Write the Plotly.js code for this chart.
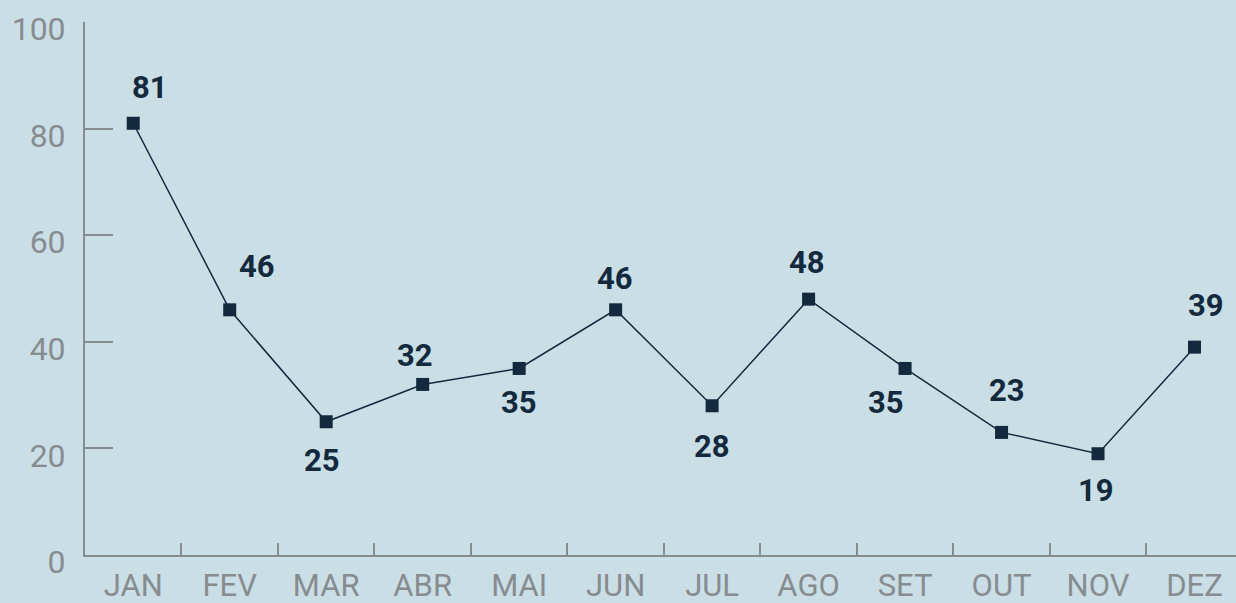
<!DOCTYPE html>
<html><head><meta charset="utf-8">
<script src="https://cdn.plot.ly/plotly-3.0.1.min.js"></script>
<style>html,body{margin:0;padding:0;background:#cadee6;}#chart{width:1236px;height:603px;}</style>
</head><body><div id="chart"></div>
<script>
const months = ["JAN","FEV","MAR","ABR","MAI","JUN","JUL","AGO","SET","OUT","NOV","DEZ"];
const values = [81,46,25,32,35,46,28,48,35,23,19,39];
const labelDx = [17,27,-4,-8,0,-1,0,-2,-19,5,-2,11];
const labelDy = [36,43,-39,29,-34,31,-41,37,-34,42,-37,42];
const yTicks = [0,20,40,60,80,100];

const navy = "#13293d", gray = "#878c8f";
const trace = {
  x: months, y: values, type: "scatter", mode: "lines+markers",
  line: {color: navy, width: 1.5},
  marker: {symbol: "square", size: 13, color: navy},
  hoverinfo: "skip", cliponaxis: false
};
const annotations = months.map((m, i) => ({
  x: m, y: values[i], xref: "x", yref: "y", text: String(values[i]),
  showarrow: false, xshift: labelDx[i], yshift: labelDy[i],
  font: {family: "Roboto, sans-serif", size: 31, color: navy, weight: "bold"}
}));
const layout = {
  width: 1236, height: 603,
  margin: {l: 85, r: 0, t: 22, b: 48},
  paper_bgcolor: "#cadee6", plot_bgcolor: "#cadee6",
  showlegend: false,
  xaxis: {
    type: "category", range: [-0.5, 11.43], tickson: "boundaries",
    ticks: "inside", ticklen: 12, tickwidth: 2, tickcolor: gray,
    showline: true, linecolor: gray, linewidth: 2, showgrid: false, zeroline: false,
    tickfont: {family: "Roboto, sans-serif", size: 31, color: gray},
    ticklabelstandoff: 2,
    fixedrange: true
  },
  yaxis: {
    range: [0, 100], tickvals: yTicks, ticktext: yTicks.map(String), tickmode: "array",
    ticks: "inside", ticklen: 28, tickwidth: 2, tickcolor: gray,
    showline: true, linecolor: gray, linewidth: 2, showgrid: false, zeroline: false,
    tickfont: {family: "Roboto, sans-serif", size: 32, color: gray},
    ticklabelshift: 7, ticklabelstandoff: 11, ticklabeloverflow: "allow",
    fixedrange: true
  },
  annotations: annotations
};
Plotly.newPlot("chart", [trace], layout, {displayModeBar: false, staticPlot: true});
</script></body></html>
